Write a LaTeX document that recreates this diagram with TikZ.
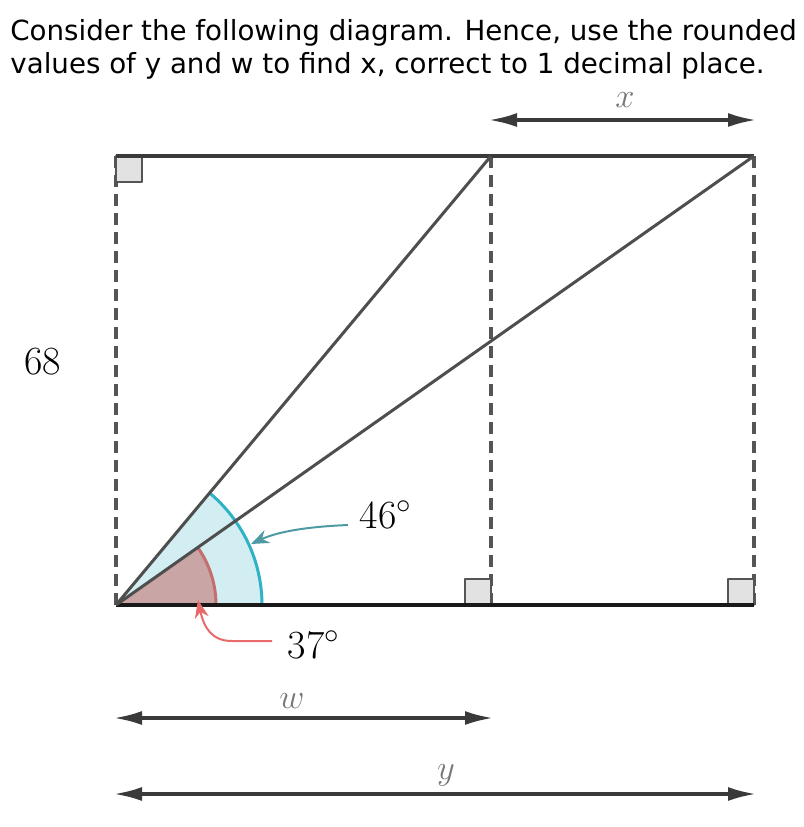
\documentclass[tikz,border=0pt]{standalone}
\usepackage{fontspec}
\newfontfamily\titlefont{DejaVu Sans}
\usetikzlibrary{arrows.meta}
\definecolor{linegrey}{HTML}{3A3A3A}
\definecolor{dashgrey}{HTML}{555555}
\definecolor{boxfill}{HTML}{E2E2E2}
\definecolor{cyanfill}{HTML}{D3EEF2}
\definecolor{cyanline}{HTML}{2FB3C4}
\definecolor{cyanarrow}{HTML}{4E9AA3}
\definecolor{redfill}{HTML}{C9A5A5}
\definecolor{redline}{HTML}{C46E6E}
\definecolor{redarrow}{HTML}{E86A6A}
\tikzset{
  side/.style={line width=2pt, draw=linegrey},
  diag/.style={line width=1.5pt, draw=linegrey!90},
  dashside/.style={line width=1.7pt, draw=dashgrey, dash pattern=on 6pt off 3.5pt},
  rightbox/.style={line width=1.3pt, draw=dashgrey, fill=boxfill},
  dimline/.style={line width=1.6pt, draw=linegrey, {Latex[length=14pt,width=7pt]}-{Latex[length=14pt,width=7pt]}},
  dimlabel/.style={text=dashgrey!80, inner sep=0pt, anchor=base, font=\fontsize{19}{22}\selectfont},
  anglabel/.style={font=\fontsize{20}{24}\selectfont}
}
\begin{document}
\begin{tikzpicture}[x=0.5pt,y=-0.5pt,line join=round]
  \useasboundingbox (0,0) rectangle (804,827);
  \node[anchor=north west, inner sep=0pt, align=left,
        font=\titlefont\fontsize{13.85}{16.3}\selectfont] (title) at (10,19)
        {Consider the following diagram. Hence, use the rounded\\values of y and w to find x, correct to 1 decimal place.};

  % corners of the figure
  \coordinate (A) at (116,605);
  \coordinate (B) at (491,605);
  \coordinate (C) at (754,605);
  \coordinate (D) at (116,156);
  \coordinate (E) at (491,156);
  \coordinate (F) at (754,156);

  % angle sectors
  \fill[cyanfill] (A) -- ++(146,0) arc[start angle=0, end angle=-50.13, radius=146] -- cycle;
  \draw[cyanline, line width=1.5pt] ([shift={(146,0)}]A) arc[start angle=0, end angle=-50.13, radius=146];
  \fill[redfill] (A) -- ++(100,0) arc[start angle=0, end angle=-35.13, radius=100] -- cycle;
  \draw[redline, line width=1.5pt] ([shift={(100,0)}]A) arc[start angle=0, end angle=-35.13, radius=100];

  % dashed verticals
  \draw[dashside] (A) -- (D);
  \draw[dashside] (B) -- (E);
  \draw[dashside] (C) -- (F);

  % right angles
  \draw[rightbox] (D) rectangle ++(26,26);
  \draw[rightbox] (B) rectangle ++(-26,-26);
  \draw[rightbox] (C) rectangle ++(-26,-26);

  % sides and diagonals
  \draw[side] (D) -- (F);
  \draw[side, draw=black!90] (A) -- (C);
  \draw[diag] (A) -- (E);
  \draw[diag] (A) -- (F);

  % labels
  \node[anglabel] (h) at (43,362) {68};
  \node[anglabel] (big) at (386,515) {46$^\circ$};
  \node[anglabel] (small) at (314,645) {37$^\circ$};

  \draw[cyanarrow, line width=1pt, -{Stealth[length=9pt,width=7pt]}]
    (348,525) .. controls (300,527) and (275,533) .. (251,544);
  \draw[redarrow, line width=1pt, -{Stealth[length=9pt,width=7pt]}]
    (272,641) -- (232,641) .. controls (212,641) and (204,628) .. (198,600);

  % dimensions
  \coordinate (xl) at (489,120);
  \coordinate (xr) at (756,120);
  \coordinate (wl) at (114,718);
  \coordinate (wr) at (493,718);
  \coordinate (yl) at (114,794);
  \coordinate (yr) at (756,794);
  \draw[dimline] (xl) -- (xr);
  \draw[dimline] (wl) -- (wr);
  \draw[dimline] (yl) -- (yr);
  \node[dimlabel] (xlab) at (625,107) {$x$};
  \node[dimlabel] (wlab) at (292,708) {$w$};
  \node[dimlabel] (ylab) at (446,779) {$y$};
\end{tikzpicture}
\end{document}
